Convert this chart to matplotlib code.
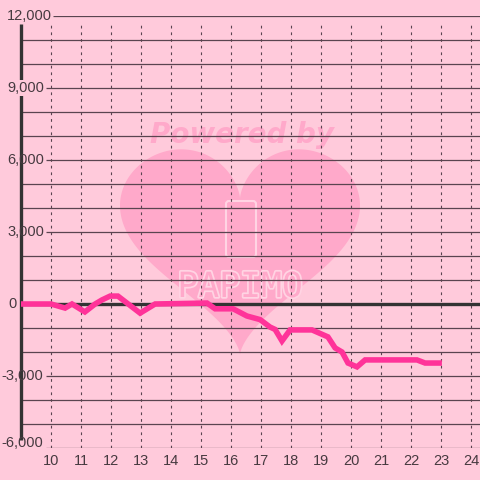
import numpy as np
import matplotlib.pyplot as plt
import matplotlib.patheffects as pe
from matplotlib.patches import Polygon, FancyBboxPatch

# =============================
# DATA
# =============================
hours = [9.0, 10.0, 10.47, 10.7, 11.13, 11.47, 11.7, 11.97, 12.23, 12.97, 13.47,
         15.2, 15.47, 16.07, 16.53, 16.97, 17.3, 17.47, 17.7, 17.97, 18.7, 19.23,
         19.47, 19.7, 19.9, 20.2, 20.47, 22.2, 22.47, 23.03]
values = [0, 0, -170, 0, -330, 0, 170, 330, 330, -380, 0,
          40, -200, -200, -500, -650, -960, -1060, -1540, -1080, -1080, -1370,
          -1830, -2000, -2460, -2620, -2330, -2330, -2460, -2460]

x_ticks = list(range(10, 25))
y_labels = [12000, 9000, 6000, 3000, 0, -3000, -6000]
y_grid = list(range(-6000, 12001, 1000))

# =============================
# STYLE
# =============================
bg = '#ffcadb'
heart_col = '#ffa9ca'
grid_col = '#5a4450'
text_col = '#463a40'
line_col = '#ff3399'

plt.rcParams['font.family'] = ['Liberation Sans', 'DejaVu Sans']

fig = plt.figure(figsize=(4.8, 4.8), dpi=100, facecolor=bg)

# background watermark (pixel coords)
ax_bg = fig.add_axes([0, 0, 1, 1], zorder=0)
ax_bg.set_xlim(0, 480)
ax_bg.set_ylim(480, 0)
ax_bg.axis('off')
ax_bg.set_facecolor(bg)

t = np.linspace(0, 2 * np.pi, 400)
hx = 16 * np.sin(t) ** 3
hy = 13 * np.cos(t) - 5 * np.cos(2 * t) - 2 * np.cos(3 * t) - np.cos(4 * t)
heart = Polygon(np.column_stack([240 + 7.5 * hx, 234 - 7.1 * hy]),
                closed=True, facecolor=heart_col, edgecolor='none')
ax_bg.add_patch(heart)

ax_bg.text(242, 135, 'Powered by', ha='center', va='center', fontsize=20,
           fontweight='bold', fontstyle='italic', color=heart_col,
           family='DejaVu Sans')

phone = FancyBboxPatch((226, 201), 30, 56, boxstyle='round,pad=0,rounding_size=3',
                       facecolor='none', edgecolor='#ffd4e3', lw=1.5)
ax_bg.add_patch(phone)
ax_bg.text(240, 287, 'PAPIMO', ha='center', va='center', fontsize=25,
           color=heart_col, family='DejaVu Sans Mono',
           path_effects=[pe.withStroke(linewidth=2.5, foreground='#ffd4e3')])

# =============================
# MAIN AXES
# =============================
W = 480.0
ax = fig.add_axes([21 / W, 32 / W, (W - 21) / W, 432 / W], zorder=1)
ax.set_facecolor('none')
ax.set_xlim(9, 24.3)
ax.set_ylim(-6000, 12000)
ax.axis('off')

px = 1 / 30.0  # one pixel in hours

# horizontal grid
for v in y_grid:
    if v == 0:
        continue
    start = 9
    if v in y_labels:
        start = 9 + 25 * px if v != 12000 else 9 + 32 * px
    ax.hlines(v, start, 24.3, color=grid_col, lw=0.9, zorder=1)

# vertical dotted grid
ax.vlines(x_ticks, -6000, 11700, color=grid_col, lw=0.8,
          linestyles=(0, (2.5, 3.5)), zorder=1)

# zero line and y-axis
ax.hlines(0, 9, 24.3, color='#333333', lw=2.4, zorder=2)
ax.vlines(9, -5670, 11670, color='#333333', lw=2.4, zorder=2, clip_on=False)

# y labels
for v in y_labels:
    lab = f'{v:,}'
    kw = dict(va='center', fontsize=10.5, color=text_col, clip_on=False, zorder=3)
    if v == 9000:
        kw['bbox'] = dict(facecolor=bg, edgecolor='none', pad=1)
    if v < 0:
        ax.text(9 + 22 * px, v + (200 if v == -6000 else 0), lab, ha='right', **kw)
    elif v == 0:
        ax.text(9 - 13 * px, v, lab, ha='left', **kw)
    else:
        ax.text(9 - 14 * px, v, lab, ha='left', **kw)

# x labels
for h in x_ticks:
    ax.text(h, -6540, str(h), ha='center', va='center', fontsize=10.5,
            color=text_col, clip_on=False)

# data line
ax.plot(hours, values, color=line_col, lw=4, solid_joinstyle='miter',
        solid_capstyle='butt', zorder=4, clip_on=False)

fig.savefig('out.png', dpi=100, facecolor=bg)
